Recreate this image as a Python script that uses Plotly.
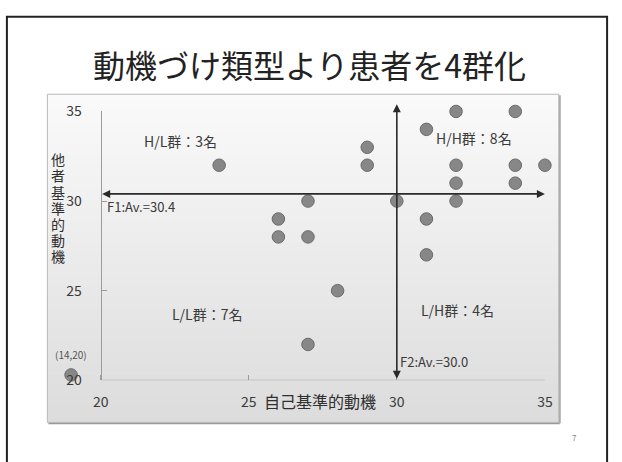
import plotly.graph_objects as go

# ---- data ----
self_motivation = [24, 29, 29,
                   32, 34, 31, 32, 34, 35, 32, 34,
                   30, 32, 31, 31,
                   27, 26, 26, 27, 28, 27, 19]
other_motivation = [32, 33, 32,
                    35, 35, 34, 32, 32, 32, 31, 31,
                    30, 30, 29, 27,
                    30, 29, 28, 28, 25, 22, 20.3]
x_ticks = [20, 25, 30, 35]
y_ticks = [20, 25, 30, 35]
f1_mean = 30.4
f2_mean = 30.0
title_text = "動機づけ類型より患者を4群化"
x_title = "自己基準的動機"
y_title = "他者基準的動機"
group_labels = ["H/L群：3名", "H/H群：8名", "L/L群：7名", "L/H群：4名"]

W, H = 622, 462
def px(x):
    return x / W
def py(y):
    return 1 - y / H

FONT = "Noto Sans CJK JP, Noto Sans, sans-serif"
VFONT = "Liberation Sans, Noto Sans CJK JP, sans-serif"
TXT = "#3a3a3a"
AX = "#9c9c9c"

fig = go.Figure()
fig.add_trace(go.Scatter(
    x=self_motivation, y=other_motivation, mode="markers",
    marker=dict(size=12.5, color="#878787", line=dict(color="#6a6a6a", width=1)),
    cliponaxis=False, hoverinfo="x+y", showlegend=False))

shapes = []
# gradient panel
x0p, x1p, y0p, y1p = 48, 566, 87, 430
n = 60
for i in range(n):
    t = i / (n - 1)
    c = int(round(250 - t * (250 - 220)))
    ya = y0p + (y1p - y0p) * i / n
    yb = y0p + (y1p - y0p) * (i + 1) / n + 0.6
    shapes.append(dict(type="rect", xref="paper", yref="paper",
                       x0=px(x0p), x1=px(x1p), y0=py(yb), y1=py(ya),
                       fillcolor=f"rgb({c},{c},{c})", line=dict(width=0), layer="below"))
# panel shadow + border
shapes.append(dict(type="line", xref="paper", yref="paper", x0=px(x0p + 1), x1=px(x1p + 1),
                   y0=py(y1p + 1.2), y1=py(y1p + 1.2), line=dict(color="#9a9a9a", width=1.5), layer="below"))
shapes.append(dict(type="line", xref="paper", yref="paper", x0=px(x1p + 1.2), x1=px(x1p + 1.2),
                   y0=py(y0p + 1), y1=py(y1p + 1), line=dict(color="#9a9a9a", width=1.5), layer="below"))
shapes.append(dict(type="rect", xref="paper", yref="paper",
                   x0=px(x0p), x1=px(x1p), y0=py(y1p), y1=py(y0p),
                   line=dict(color="#b8b8b8", width=1), layer="below"))
# x axis line (only from 20 to 35)
shapes.append(dict(type="line", xref="x", yref="y", x0=x_ticks[0], x1=x_ticks[-1],
                   y0=y_ticks[0], y1=y_ticks[0], line=dict(color=AX, width=1), layer="below"))
# slide border
shapes.append(dict(type="rect", xref="paper", yref="paper",
                   x0=px(7), x1=px(615), y0=-0.05, y1=py(6),
                   line=dict(color="#222222", width=2)))

annotations = []
# title
annotations.append(dict(text=title_text, xref="paper", yref="paper", x=px(314), y=py(55),
                        showarrow=False, font=dict(size=32, color="#222222", family=FONT),
                        xanchor="center", yanchor="middle"))
# mean arrows
annotations.append(dict(x=35, y=f1_mean, ax=20, ay=f1_mean, xref="x", yref="y", axref="x", ayref="y",
                        text="", showarrow=True, arrowhead=2, arrowsize=1, arrowwidth=1.6,
                        arrowside="end+start", arrowcolor="#2a2a2a"))
annotations.append(dict(x=f2_mean, y=35.4, ax=f2_mean, ay=20, xref="x", yref="y", axref="x", ayref="y",
                        text="", showarrow=True, arrowhead=2, arrowsize=1, arrowwidth=1.6,
                        arrowside="end+start", arrowcolor="#2a2a2a"))
annotations.append(dict(text=f"F1:Av.={f1_mean:.1f}", x=20.15, y=29.72, xref="x", yref="y",
                        showarrow=False, xanchor="left", yanchor="middle",
                        font=dict(size=13, color=TXT, family=FONT)))
annotations.append(dict(text=f"F2:Av.={f2_mean:.1f}", x=30.05, y=21.07, xref="x", yref="y",
                        showarrow=False, xanchor="left", yanchor="middle",
                        font=dict(size=13, color=TXT, family=FONT)))
# group labels
for lab, (gx, gy) in zip(group_labels, [(22.7, 33.35), (32.6, 33.5), (23.6, 23.7), (32.05, 23.9)]):
    annotations.append(dict(text=lab, x=gx, y=gy, xref="x", yref="y", showarrow=False,
                            xanchor="center", yanchor="middle",
                            font=dict(size=14, color=TXT, family=FONT)))
# outlier label
annotations.append(dict(text="(14,20)", x=19.0, y=21.44, xref="x", yref="y", showarrow=False,
                        xanchor="center", yanchor="middle",
                        font=dict(size=10, color="#555555", family=FONT)))
# axis titles
annotations.append(dict(text=x_title, xref="paper", yref="paper", x=px(265), y=py(408),
                        showarrow=False, xanchor="left", yanchor="middle",
                        font=dict(size=16, color="#2f2f2f", family=FONT)))
for i, ch in enumerate(y_title):
    annotations.append(dict(text=ch, xref="paper", yref="paper", x=px(59), y=py(156 + 16.9 * i),
                            showarrow=False, xanchor="center", yanchor="middle", borderpad=0,
                            font=dict(size=14, color="#2f2f2f", family=VFONT)))
# page number
annotations.append(dict(text="7", xref="paper", yref="paper", x=px(582), y=py(446),
                        showarrow=False, xanchor="center", yanchor="middle",
                        font=dict(size=8, color="#888888", family=FONT)))

fig.update_layout(
    width=W, height=H, margin=dict(l=0, r=0, t=0, b=0),
    paper_bgcolor="white", plot_bgcolor="rgba(0,0,0,0)",
    shapes=shapes, annotations=annotations, showlegend=False,
    xaxis=dict(domain=[px(57), px(552)], range=[18.5, 35], tickvals=x_ticks,
               showgrid=False, zeroline=False, showline=False,
               ticks="inside", ticklen=5, tickcolor=AX,
               tickfont=dict(size=14, color=TXT, family=FONT), ticklabelstandoff=12),
    yaxis=dict(domain=[py(386), py(105)], range=[20, 35], tickvals=y_ticks,
               anchor="free", position=px(102),
               showgrid=False, zeroline=False, showline=True, linecolor=AX, linewidth=1,
               ticks="inside", ticklen=5, tickcolor=AX,
               tickfont=dict(size=14, color=TXT, family=FONT), ticklabelstandoff=16),
)

fig.write_html("out.html")
